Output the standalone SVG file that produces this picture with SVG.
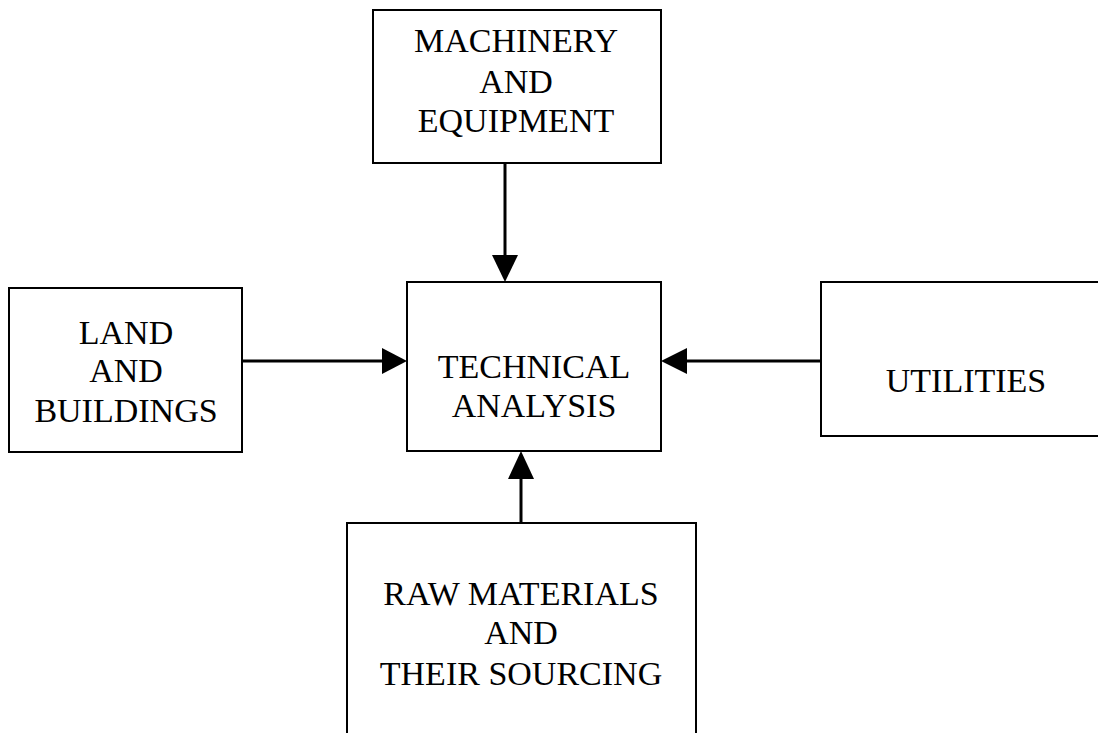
<svg xmlns="http://www.w3.org/2000/svg" width="1098" height="733" viewBox="0 0 1098 733">
<style>
.box{fill:#fff;stroke:#000;stroke-width:2}
.lbl{font-family:"Liberation Serif","Times New Roman",serif;font-size:34px;fill:#000;text-anchor:middle}
.ln{stroke:#000;stroke-width:3;fill:none}
.ah{fill:#000}
</style>
<rect width="1098" height="733" fill="#fff"/>
<g id="machinery">
<rect class="box" x="373" y="10" width="288" height="153"/>
<text class="lbl" x="516" y="52">MACHINERY</text>
<text class="lbl" x="516" y="93">AND</text>
<text class="lbl" x="516" y="132">EQUIPMENT</text>
</g>
<g id="technical">
<rect class="box" x="407" y="282" width="254" height="169"/>
<text class="lbl" x="534" y="378">TECHNICAL</text>
<text class="lbl" x="534" y="417">ANALYSIS</text>
</g>
<g id="land">
<rect class="box" x="9" y="288" width="233" height="164"/>
<text class="lbl" x="126" y="344">LAND</text>
<text class="lbl" x="126" y="382">AND</text>
<text class="lbl" x="126" y="422">BUILDINGS</text>
</g>
<g id="utilities">
<rect class="box" x="821" y="282" width="290" height="154"/>
<text class="lbl" x="966" y="392">UTILITIES</text>
</g>
<g id="rawmaterials">
<rect class="box" x="347" y="523" width="349" height="220"/>
<text class="lbl" x="521" y="605">RAW MATERIALS</text>
<text class="lbl" x="521" y="644">AND</text>
<text class="lbl" x="521" y="685">THEIR SOURCING</text>
</g>
<g id="connectors">
<line class="ln" x1="505" y1="163" x2="505" y2="258"/>
<polygon class="ah" points="492,255 518,255 505,282"/>
<line class="ln" x1="242" y1="361" x2="385" y2="361"/>
<polygon class="ah" points="382,348 382,374 407,361"/>
<line class="ln" x1="821" y1="361" x2="684" y2="361"/>
<polygon class="ah" points="687,348 687,374 661,361"/>
<line class="ln" x1="521" y1="523" x2="521" y2="476"/>
<polygon class="ah" points="508,479 534,479 521,451"/>
</g>
</svg>
